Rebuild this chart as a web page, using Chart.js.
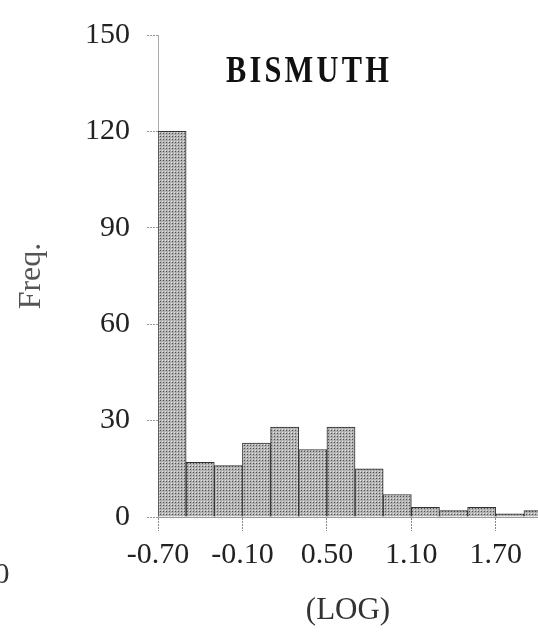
<!DOCTYPE html>
<html>
<head>
<meta charset="utf-8">
<script src="https://cdn.jsdelivr.net/npm/chart.js@4.4.1/dist/chart.umd.min.js"></script>
<style>
    html, body { margin: 0; padding: 0; background: #fff; }
    #wrap { width: 538px; height: 634px; }
</style>
</head>
<body>
<div id="wrap"><canvas id="histo" width="538" height="634"></canvas></div>
<script>
// ============================================
// Data
// ============================================

const TITLE = "BISMUTH";
const Y_TITLE = "Freq.";
const X_TITLE = "(LOG)";

// bin centres (log units, bins 0.2 wide starting at -0.70)
const binCentres = [-0.60, -0.40, -0.20, 0.00, 0.20, 0.40, 0.60, 0.80, 1.00, 1.20, 1.40, 1.60, 1.80, 2.00];
const freqs = [120, 17, 16, 23, 28, 21, 28, 15, 7, 3, 2, 3, 1, 2];

const xTicks = [-0.70, -0.10, 0.50, 1.10, 1.70];
const yTicks = [0, 30, 60, 90, 120, 150];

// leftover label of the neighbouring panel, cut by the frame
const NEIGHBOUR_LABEL = "0";

// ============================================
// Helpers
// ============================================

const SERIF = "'Liberation Serif', 'Times New Roman', serif";

function stipple() {
    const c = document.createElement("canvas");
    c.width = 3;
    c.height = 3;
    const g = c.getContext("2d");
    g.fillStyle = "#b2b2b2";
    g.fillRect(0, 0, 3, 3);
    g.fillStyle = "#505050";
    g.fillRect(1, 1, 1, 1);
    g.fillStyle = "#e4e4e4";
    g.fillRect(0, 0, 1, 1);
    return g.createPattern(c, "repeat");
}

const overlayText = {
    id: "overlayText",
    afterDraw(chart) {
        const ctx = chart.ctx;
        const area = chart.chartArea;
        ctx.save();
        // title sits inside the plot, condensed serif like the scan
        ctx.translate(area.left + 151, area.top + 37);
        ctx.scale(0.8, 1);
        ctx.fillStyle = "#111";
        ctx.font = "bold 38px " + SERIF;
        ctx.textAlign = "center";
        ctx.textBaseline = "middle";
        if ("letterSpacing" in ctx) ctx.letterSpacing = "4px";
        ctx.fillText(TITLE, 0, 0);
        ctx.restore();

        ctx.save();
        ctx.fillStyle = "#333";
        ctx.font = "30px " + SERIF;
        ctx.textAlign = "center";
        ctx.textBaseline = "middle";
        ctx.fillText(NEIGHBOUR_LABEL, 2, area.bottom + 58);
        ctx.restore();
    },
};

// ============================================
// Chart
// ============================================

function init() {
    const ctx = document.getElementById("histo").getContext("2d");

    new Chart(ctx, {
        type: "bar",
        data: {
            datasets: [
                {
                    data: binCentres.map((x, i) => ({ x: x, y: freqs[i] })),
                    backgroundColor: stipple(),
                    borderColor: "#333",
                    borderWidth: 1,
                    barPercentage: 1,
                    categoryPercentage: 1,
                },
            ],
        },
        options: {
            responsive: false,
            animation: false,
            events: [],
            layout: { padding: { top: 30, left: 0, right: 0, bottom: 0 } },
            plugins: {
                legend: { display: false },
                tooltip: { enabled: false },
            },
            scales: {
                x: {
                    type: "linear",
                    min: -0.70,
                    max: 2.0,
                    offset: false,
                    afterFit: (scale) => { scale.height = 117; },
                    afterBuildTicks: (scale) => {
                        scale.ticks = xTicks.map((v) => ({ value: v }));
                    },
                    border: { display: true, color: "#999", dash: [2, 2] },
                    grid: {
                        offset: false,
                        drawOnChartArea: false,
                        drawTicks: true,
                        tickLength: 14,
                        color: "#888",
                        tickBorderDash: [2, 1],
                    },
                    ticks: {
                        padding: 6,
                        color: "#222",
                        font: { family: SERIF, size: 30 },
                        maxRotation: 0,
                        autoSkip: false,
                        callback: (v) => Number(v).toFixed(2),
                    },
                    title: {
                        display: true,
                        text: X_TITLE,
                        color: "#333",
                        font: { family: SERIF, size: 31 },
                        padding: { top: 0, bottom: 5 },
                    },
                },
                y: {
                    min: 0,
                    max: 150,
                    afterFit: (scale) => { scale.width = 158; },
                    afterBuildTicks: (scale) => {
                        scale.ticks = yTicks.map((v) => ({ value: v }));
                    },
                    border: { display: true, color: "#aaa", dash: [2, 2] },
                    grid: {
                        drawOnChartArea: false,
                        drawTicks: true,
                        tickLength: 11,
                        color: "#999",
                        tickBorderDash: [2, 1],
                    },
                    ticks: {
                        padding: 17,
                        color: "#222",
                        font: { family: SERIF, size: 30 },
                    },
                    title: {
                        display: true,
                        text: Y_TITLE,
                        color: "#555",
                        font: { family: SERIF, size: 32 },
                        padding: { top: 12, bottom: 0 },
                    },
                },
            },
        },
        plugins: [overlayText],
    });
}

document.addEventListener("DOMContentLoaded", init);
</script>
</body>
</html>
